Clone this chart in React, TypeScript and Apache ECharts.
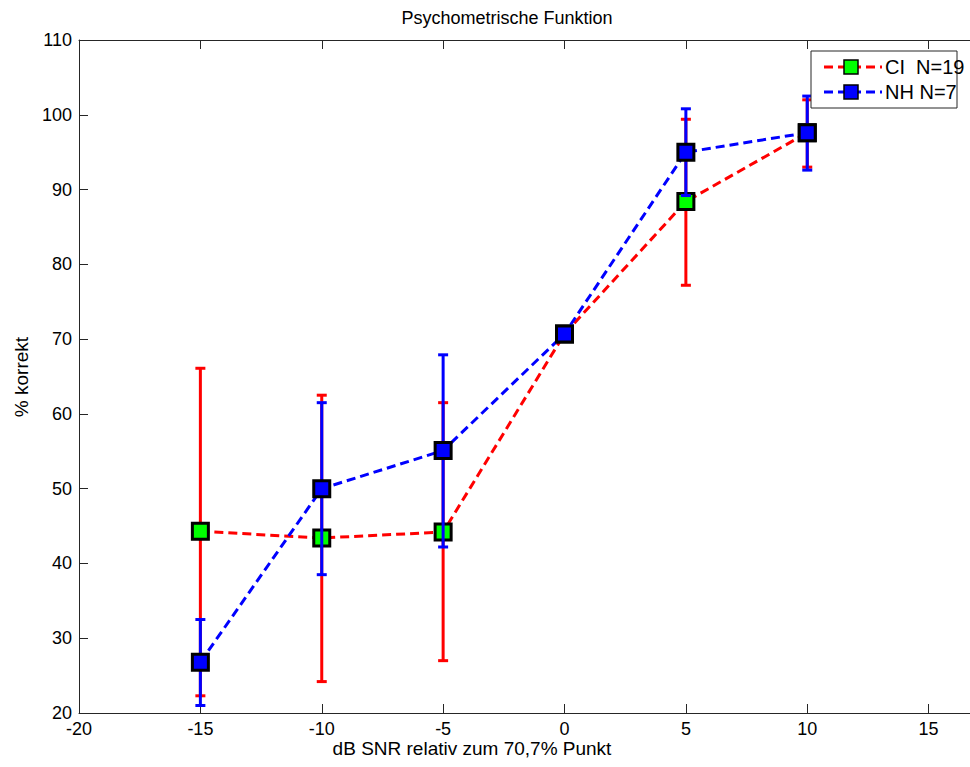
import React, { useEffect, useRef } from "react";
import * as echarts from "echarts";

const xs = [-15, -10, -5, 0, 5, 10];
const ciMean = [44.3, 43.4, 44.2, 70.7, 88.4, 97.6];
const ciLow = [22.3, 24.2, 27.0, 70.7, 77.2, 93.0];
const ciHigh = [66.1, 62.5, 61.5, 70.7, 99.4, 102.0];
const nhMean = [26.8, 50.0, 55.1, 70.7, 95.0, 97.6];
const nhLow = [21.0, 38.5, 42.2, 70.7, 89.2, 92.6];
const nhHigh = [32.5, 61.5, 67.9, 70.7, 100.8, 102.5];
const ciLabel = "CI  N=19";
const nhLabel = "NH N=7";
const titleText = "Psychometrische Funktion";
const xLabel = "dB SNR relativ zum 70,7% Punkt";
const yLabel = "% korrekt";

const FONT = "Liberation Sans, Arial, sans-serif";

function errorSeries(low: number[], high: number[], color: string, z: number) {
  return {
    type: "custom",
    z,
    silent: true,
    data: xs.map((x, i) => [x, low[i], high[i]]),
    encode: { x: 0, y: [1, 2] },
    renderItem: (params: any, api: any) => {
      const x = api.value(0);
      const lo = api.coord([x, api.value(1)]);
      const hi = api.coord([x, api.value(2)]);
      const hw = 5;
      const style = { stroke: color, lineWidth: 3 };
      return {
        type: "group",
        children: [
          { type: "line", shape: { x1: lo[0], y1: lo[1], x2: hi[0], y2: hi[1] }, style },
          { type: "line", shape: { x1: hi[0] - hw, y1: hi[1], x2: hi[0] + hw, y2: hi[1] }, style },
          { type: "line", shape: { x1: lo[0] - hw, y1: lo[1], x2: lo[0] + hw, y2: lo[1] }, style },
        ],
      };
    },
  };
}

function lineSeries(name: string, mean: number[], color: string, fill: string, z: number) {
  return {
    type: "line",
    name,
    z,
    data: xs.map((x, i) => [x, mean[i]]),
    symbol: "rect",
    symbolSize: 16,
    lineStyle: { color, width: 3, type: [9, 5] },
    itemStyle: { color: fill, borderColor: "#000", borderWidth: 3 },
    emphasis: { disabled: true },
  };
}

function legendRow(y: number, color: string, fill: string, label: string) {
  return [
    {
      type: "line",
      shape: { x1: 824, y1: y, x2: 882, y2: y },
      style: { stroke: color, lineWidth: 3, lineDash: [9, 5] },
      z: 101,
    },
    {
      type: "rect",
      shape: { x: 851 - 7, y: y - 7, width: 14, height: 14 },
      style: { fill, stroke: "#000", lineWidth: 1.5 },
      z: 102,
    },
    {
      type: "text",
      x: 885,
      y,
      style: { text: label, fill: "#000", fontSize: 20, fontFamily: FONT, verticalAlign: "middle", align: "left" },
      z: 102,
    },
  ];
}

export default function App() {
  const ref = useRef<HTMLDivElement>(null);
  useEffect(() => {
    document.body.style.margin = "0";
    document.body.style.overflow = "hidden";
    const chart = echarts.init(ref.current!, undefined, { renderer: "svg" });
    const axisLine = { show: true, onZero: false, lineStyle: { color: "#262626", width: 1 } };
    const axisTick = { show: true, inside: true, length: 9, lineStyle: { color: "#262626", width: 1 } };
    chart.setOption({
      animation: false,
      backgroundColor: "#fff",
      grid: { left: 79, top: 40, width: 971, height: 673 },
      xAxis: [
        {
          type: "value",
          min: -20,
          max: 20,
          interval: 5,
          axisLine,
          axisTick,
          splitLine: { show: false },
          axisLabel: { color: "#000", fontSize: 18, fontFamily: FONT, margin: 7, showMaxLabel: false },
        },
        {
          type: "value",
          position: "top",
          min: -20,
          max: 20,
          interval: 5,
          axisLine,
          axisTick,
          splitLine: { show: false },
          axisLabel: { show: false },
        },
      ],
      yAxis: {
        type: "value",
        min: 20,
        max: 110,
        interval: 10,
        axisLine,
        axisTick,
        splitLine: { show: false },
        axisLabel: { color: "#000", fontSize: 18, fontFamily: FONT, margin: 7 },
      },
      series: [
        errorSeries(ciLow, ciHigh, "#ff0000", 2),
        lineSeries(ciLabel, ciMean, "#ff0000", "#00ff00", 3),
        errorSeries(nhLow, nhHigh, "#0000ff", 4),
        lineSeries(nhLabel, nhMean, "#0000ff", "#0000ff", 5),
      ],
      graphic: [
        {
          type: "text",
          x: 507,
          y: 18,
          style: { text: titleText, fill: "#000", fontSize: 18, fontFamily: FONT, align: "center", verticalAlign: "middle" },
        },
        {
          type: "text",
          x: 472,
          y: 748,
          style: { text: xLabel, fill: "#000", fontSize: 19, fontFamily: FONT, align: "center", verticalAlign: "middle" },
        },
        {
          type: "text",
          x: 21,
          y: 377,
          rotation: Math.PI / 2,
          style: { text: yLabel, fill: "#000", fontSize: 19, fontFamily: FONT, align: "center", verticalAlign: "middle" },
        },
        {
          type: "rect",
          shape: { x: 811, y: 51, width: 146, height: 57 },
          style: { fill: "#fff", stroke: "#262626", lineWidth: 1 },
          z: 100,
        },
        ...legendRow(67, "#ff0000", "#00ff00", ciLabel),
        ...legendRow(92, "#0000ff", "#0000ff", nhLabel),
      ],
    });
    return () => chart.dispose();
  }, []);
  return (
    <div style={{ width: 970, height: 767, overflow: "hidden" }}>
      <div ref={ref} style={{ width: 1100, height: 767 }} />
    </div>
  );
}
